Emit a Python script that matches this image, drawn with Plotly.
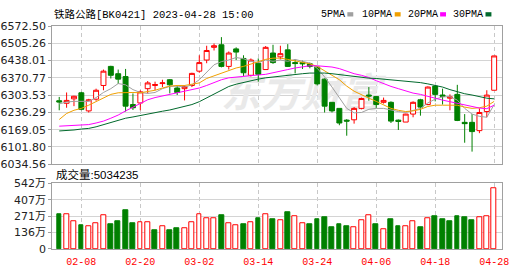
import plotly.graph_objects as go

# ---------------- data ----------------
dates = ["02-03", "02-06", "02-07", "02-08", "02-09", "02-10", "02-13", "02-14", "02-15", "02-16",
         "02-17", "02-20", "02-21", "02-22", "02-23", "02-24", "02-27", "02-28", "03-01", "03-02",
         "03-03", "03-06", "03-07", "03-08", "03-09", "03-10", "03-13", "03-14", "03-15", "03-16",
         "03-17", "03-20", "03-21", "03-22", "03-23", "03-24", "03-27", "03-28", "03-29", "03-30",
         "03-31", "04-03", "04-04", "04-06", "04-07", "04-10", "04-11", "04-12", "04-13", "04-14",
         "04-17", "04-18", "04-19", "04-20", "04-21", "04-24", "04-25", "04-26", "04-27", "04-28"]

opens = [6281.6, 6271.7, 6289.0, 6312.5, 6242.0, 6287.7, 6341.0, 6415.3, 6386.8, 6375.6,
         6266.7, 6272.9, 6328.6, 6341.0, 6348.4, 6363.3, 6331.1, 6328.6, 6341.0, 6396.7,
         6440.0, 6489.5, 6499.4, 6415.3, 6483.4, 6446.2, 6380.6, 6427.6, 6402.9, 6467.3,
         6452.4, 6479.6, 6430.1, 6430.1, 6425.2, 6412.8, 6365.7, 6275.4, 6251.8, 6206.0,
         6207.3, 6251.8, 6303.8, 6297.6, 6275.4, 6275.4, 6206.0, 6198.6, 6229.6, 6285.3,
         6266.7, 6338.5, 6303.8, 6291.5, 6306.3, 6197.4, 6197.4, 6165.2, 6239.5, 6322.4]
highs = [6296.4, 6313.7, 6301.0, 6316.2, 6289.0, 6328.6, 6402.9, 6417.7, 6402.9, 6405.4,
         6310.0, 6322.4, 6358.3, 6355.8, 6363.3, 6365.7, 6341.0, 6341.0, 6390.5, 6458.6,
         6495.7, 6504.4, 6529.2, 6473.4, 6489.5, 6458.6, 6446.2, 6446.2, 6494.5, 6499.4,
         6495.7, 6501.9, 6442.5, 6437.5, 6430.1, 6415.3, 6368.2, 6275.4, 6251.8, 6209.8,
         6256.8, 6293.9, 6334.8, 6300.1, 6293.9, 6279.1, 6208.5, 6230.8, 6279.1, 6289.0,
         6337.3, 6341.0, 6328.6, 6306.3, 6343.5, 6229.6, 6229.6, 6251.8, 6322.4, 6456.1]
lows = [6244.4, 6254.3, 6260.5, 6244.4, 6235.8, 6281.6, 6322.4, 6368.2, 6347.2, 6239.5,
        6245.6, 6244.4, 6310.0, 6322.4, 6334.8, 6310.0, 6303.8, 6282.8, 6334.8, 6390.5,
        6427.6, 6477.2, 6411.5, 6402.9, 6440.0, 6378.1, 6375.6, 6355.8, 6402.9, 6425.2,
        6442.5, 6412.8, 6388.0, 6405.4, 6407.8, 6341.0, 6235.8, 6235.8, 6186.2, 6145.4,
        6192.4, 6248.1, 6281.6, 6251.8, 6270.4, 6194.9, 6167.7, 6198.6, 6217.2, 6223.4,
        6264.2, 6279.1, 6266.7, 6244.4, 6202.3, 6118.1, 6083.5, 6155.3, 6217.2, 6322.4]
closes = [6276.6, 6282.8, 6298.9, 6248.1, 6285.3, 6322.4, 6396.7, 6380.6, 6365.7, 6260.5,
          6254.3, 6316.2, 6350.9, 6344.7, 6351.0, 6343.5, 6313.7, 6337.3, 6388.0, 6430.1,
          6477.2, 6495.7, 6415.3, 6467.3, 6471.0, 6390.5, 6440.0, 6384.3, 6489.5, 6430.1,
          6464.8, 6415.3, 6426.4, 6425.2, 6415.3, 6347.2, 6260.5, 6242.0, 6194.9, 6202.3,
          6251.8, 6290.2, 6300.1, 6266.7, 6282.8, 6202.3, 6201.1, 6229.6, 6275.4, 6256.8,
          6334.8, 6306.3, 6298.9, 6296.4, 6204.8, 6192.4, 6161.5, 6235.8, 6303.5, 6456.1]

ma5 = [6269.2, 6276.6, 6279.1, 6279.1, 6279.1, 6293.9, 6313.7, 6328.6, 6348.4, 6343.5,
       6324.9, 6313.7, 6310.0, 6313.7, 6328.6, 6337.3, 6338.5, 6334.8, 6343.5, 6363.3,
       6390.5, 6421.5, 6433.8, 6440.0, 6449.9, 6445.0, 6435.1, 6430.1, 6440.0, 6435.1,
       6440.0, 6435.1, 6442.5, 6435.1, 6427.6, 6407.8, 6374.4, 6334.8, 6291.5, 6251.8,
       6234.5, 6235.8, 6248.1, 6251.8, 6251.8, 6244.4, 6239.5, 6235.8, 6244.4, 6251.8,
       6272.9, 6287.7, 6296.4, 6297.7, 6284.0, 6251.8, 6229.6, 6220.9, 6217.2, 6266.7]
ma10 = [6208.5, 6232.0, 6244.4, 6251.8, 6264.2, 6279.1, 6293.9, 6306.3, 6312.5, 6313.7,
        6313.7, 6312.5, 6316.2, 6322.4, 6331.1, 6338.5, 6341.0, 6341.0, 6345.9, 6350.9,
        6368.2, 6378.1, 6390.5, 6400.4, 6409.1, 6415.3, 6425.2, 6433.8, 6442.5, 6447.4,
        6447.4, 6442.5, 6437.5, 6431.4, 6425.2, 6415.3, 6396.7, 6380.6, 6363.3, 6338.5,
        6318.7, 6303.8, 6291.5, 6279.1, 6264.2, 6251.8, 6244.4, 6239.5, 6242.0, 6248.1,
        6259.3, 6264.2, 6264.2, 6264.2, 6264.2, 6256.8, 6251.8, 6254.3, 6260.5, 6279.1]
ma20 = [6182.5, 6183.8, 6185.0, 6186.2, 6188.7, 6194.9, 6202.3, 6213.5, 6225.8, 6242.0,
        6256.8, 6272.9, 6285.3, 6293.9, 6300.1, 6305.1, 6312.5, 6318.7, 6323.6, 6331.1,
        6341.0, 6353.4, 6363.3, 6370.7, 6374.4, 6376.9, 6379.4, 6381.8, 6384.3, 6390.5,
        6395.5, 6402.9, 6409.1, 6414.0, 6417.7, 6417.7, 6416.5, 6412.8, 6406.6, 6396.7,
        6386.8, 6380.6, 6371.9, 6359.6, 6347.2, 6337.3, 6328.6, 6319.9, 6311.3, 6306.3,
        6297.7, 6291.5, 6284.0, 6277.8, 6270.4, 6264.2, 6258.0, 6253.1, 6250.6, 6264.2]
ma30 = [6163.9, 6165.2, 6167.7, 6171.4, 6173.9, 6180.0, 6188.7, 6197.4, 6206.0, 6213.5,
        6218.4, 6224.6, 6230.8, 6235.8, 6240.7, 6245.6, 6251.8, 6258.0, 6266.7, 6277.8,
        6293.0, 6309.0, 6325.0, 6337.0, 6346.0, 6353.0, 6360.8, 6365.7, 6370.7, 6374.4,
        6378.1, 6380.6, 6383.1, 6386.8, 6389.3, 6390.5, 6389.3, 6386.8, 6383.1, 6378.1,
        6374.4, 6370.7, 6369.5, 6368.2, 6365.7, 6363.3, 6360.8, 6358.3, 6355.8, 6352.1,
        6347.2, 6341.0, 6334.8, 6324.9, 6316.2, 6308.8, 6303.8, 6297.6, 6291.5, 6289.0]

volumes = [2827000, 2880000, 2278000, 1964000, 1885000, 2094000, 2749000, 2042000, 2278000, 3220000,
           2120000, 2173000, 2173000, 1570000, 1885000, 1570000, 1676000, 1728000, 2200000, 2880000,
           2513000, 2513000, 2749000, 2094000, 1964000, 2042000, 2173000, 2513000, 2880000, 2435000,
           2356000, 3063000, 2723000, 2094000, 2042000, 2435000, 2592000, 1806000, 2042000, 1885000,
           1806000, 2356000, 2801000, 2042000, 1623000, 2435000, 1885000, 1885000, 2278000, 1806000,
           2513000, 2670000, 2435000, 2278000, 2670000, 2592000, 2356000, 2592000, 2670000, 5034235]
vol_up = [0, 1, 1, 0, 1, 1, 1, 0, 0, 0,
          0, 1, 1, 0, 1, 0, 0, 1, 1, 1,
          1, 1, 0, 1, 1, 0, 1, 0, 1, 0,
          1, 0, 1, 1, 0, 0, 0, 0, 0, 0,
          1, 1, 1, 0, 1, 0, 0, 1, 1, 0,
          1, 0, 0, 0, 0, 0, 0, 1, 1, 1]

price_ticks = [6034.56, 6101.80, 6169.05, 6236.29, 6303.53, 6370.77, 6438.01, 6505.26, 6572.50]
vol_ticks = [0, 1355000, 2710000, 4065000, 5420000]
vol_tick_text = ["0", "136万", "271万", "407万", "542万"]
date_labels = ["02-08", "02-20", "03-02", "03-14", "03-24", "04-06", "04-18", "04-28"]
ma_names = ["5PMA", "10PMA", "20PMA", "30PMA"]
ma_colors = ["#a0a0a0", "#f0a000", "#ff00ff", "#00692c"]
title_text = "铁路公路[BK0421] 2023-04-28 15:00"
volume_title = "成交量:5034235"
watermark = "东方财富"

# ---------------- figure ----------------
W, H = 530, 276
idx = list(range(len(dates)))
tickvals = [dates.index(d) for d in date_labels]
xrange_ = [-0.94, 60.1]
xdom = [53 / W, 509 / W]

fig = go.Figure()

# watermark (below everything, on the base axes)
fig.add_trace(go.Scatter(
    x=[32.8], y=[6297.7], mode="text", text=[watermark],
    textfont=dict(family="Noto Sans CJK SC", size=40, color="#e9e9e9",
                  weight="bold", style="italic"),
    xaxis="x", yaxis="y", hoverinfo="skip", showlegend=False))

fig.add_trace(go.Candlestick(
    x=idx, open=opens, high=highs, low=lows, close=closes,
    xaxis="x", yaxis="y3", whiskerwidth=0,
    increasing=dict(line=dict(color="#ff0000", width=1), fillcolor="#ffffff"),
    decreasing=dict(line=dict(color="#008000", width=1), fillcolor="#008000"),
    showlegend=False, hoverinfo="skip"))

for name, vals, col in zip(ma_names, [ma5, ma10, ma20, ma30], ma_colors):
    fig.add_trace(go.Scatter(x=idx, y=vals, mode="lines", name=name,
                             line=dict(color=col, width=1),
                             xaxis="x", yaxis="y3", showlegend=False, hoverinfo="skip"))

fig.add_trace(go.Bar(
    x=idx, y=volumes, xaxis="x2", yaxis="y2", width=0.66,
    marker=dict(color=["#ffffff" if u else "#008000" for u in vol_up],
                line=dict(color=["#ff0000" if u else "#008000" for u in vol_up], width=1)),
    showlegend=False, hoverinfo="skip"))

line_col = "#a0a0a0"
grid_col = "#d4d4d4"
xa = dict(range=xrange_, domain=xdom, tickmode="array", tickvals=tickvals,
          showgrid=True, gridcolor="#c8c8c8", griddash="4px,3px", gridwidth=1,
          showline=True, linecolor=line_col, mirror=True, zeroline=False,
          ticks="", fixedrange=True)
ytf = dict(family="DejaVu Sans, Noto Sans CJK SC", size=11, color="#222222")

fig.update_layout(
    width=W, height=H, margin=dict(l=0, r=0, t=0, b=0),
    paper_bgcolor="#ffffff", plot_bgcolor="#ffffff",
    boxgap=0.33, boxgroupgap=0, bargap=0,
    showlegend=False,
    xaxis=dict(**xa, anchor="y", showticklabels=False, rangeslider=dict(visible=False)),
    xaxis2=dict(**xa, anchor="y2", ticktext=date_labels, ticklabelstandoff=3,
                tickfont=dict(family="Liberation Mono", size=10, color="#ff0000")),
    yaxis=dict(domain=[1 - 166 / H, 1 - 21 / H], range=[price_ticks[0], price_ticks[-1]],
               tickmode="array", tickvals=price_ticks, ticktext=[f"{v:.2f}" for v in price_ticks],
               showgrid=True, gridcolor=grid_col, showline=True, mirror=True, linecolor=line_col,
               ticks="outside", ticklen=3, tickcolor=line_col, tickfont=ytf,
               zeroline=False, anchor="x", fixedrange=True),
    yaxis3=dict(overlaying="y", anchor="x", range=[price_ticks[0], price_ticks[-1]],
                visible=False, fixedrange=True),
    yaxis2=dict(domain=[1 - 255 / H, 1 - 186 / H], range=[vol_ticks[0], vol_ticks[-1]],
                tickmode="array", tickvals=vol_ticks, ticktext=vol_tick_text,
                showgrid=True, gridcolor=grid_col, showline=True, mirror=True, linecolor=line_col,
                ticks="outside", ticklen=3, tickcolor=line_col, tickfont=ytf,
                zeroline=False, anchor="x2", fixedrange=True),
)

annotations = [
    dict(text=title_text, x=53 / W, y=1 - 9 / H, xref="paper", yref="paper",
         xanchor="left", yanchor="middle", showarrow=False,
         font=dict(family="Liberation Mono, Noto Sans CJK SC", size=10.5, color="#000000")),
    dict(text=volume_title, x=55 / W, y=1 - 177 / H, xref="paper", yref="paper",
         xanchor="left", yanchor="middle", showarrow=False,
         font=dict(family="Liberation Sans, Noto Sans CJK SC", size=11.5, color="#000000")),
]
shapes = []
legend_x = [323, 365, 411, 457]
square_x = [352, 400, 446, 492]
for name, col, lx, sx in zip(ma_names, ma_colors, legend_x, square_x):
    annotations.append(dict(text=name, x=lx / W, y=1 - 9 / H, xref="paper", yref="paper",
                            xanchor="left", yanchor="middle", showarrow=False,
                            font=dict(family="Liberation Mono", size=10, color="#000000")))
    shapes.append(dict(type="rect", xref="paper", yref="paper",
                       x0=sx / W, x1=(sx + 6) / W, y0=1 - 11 / H, y1=1 - 6.5 / H,
                       fillcolor=col, line=dict(width=0)))
fig.update_layout(annotations=annotations, shapes=shapes)

fig.write_html("out.html")
